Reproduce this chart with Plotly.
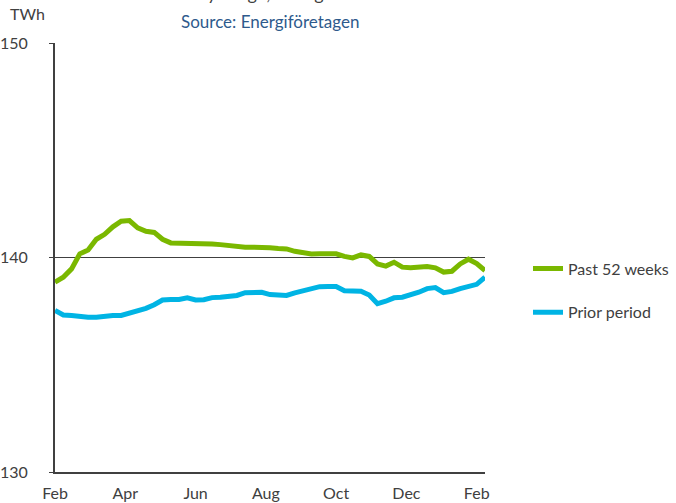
import plotly.graph_objects as go

weeks = list(range(53))
past_52_weeks = [138.85, 139.08, 139.47, 140.17, 140.35, 140.85, 141.08, 141.43, 141.69, 141.72,
                 141.38, 141.22, 141.17, 140.85, 140.68, 140.68, 140.68, 140.68, 140.68, 140.63,
                 140.60, 140.55, 140.48, 140.48, 140.48, 140.48, 140.45, 140.42, 140.40, 140.29,
                 140.25, 140.16, 140.18, 140.20, 140.17, 140.05, 139.98, 140.12, 140.05, 139.70,
                 139.60, 139.78, 139.55, 139.52, 139.57, 139.58, 139.52, 139.32, 139.36, 139.70,
                 139.92, 139.72, 139.39]
prior_period = [137.53, 137.32, 137.30, 137.25, 137.22, 137.22, 137.28, 137.30, 137.30, 137.40,
                137.50, 137.63, 137.80, 138.02, 138.04, 138.04, 138.12, 138.02, 138.03, 138.13,
                138.15, 138.20, 138.23, 138.36, 138.38, 138.38, 138.27, 138.23, 138.23, 138.35,
                138.45, 138.56, 138.64, 138.65, 138.65, 138.45, 138.43, 138.43, 138.25, 137.85,
                137.96, 138.12, 138.15, 138.24, 138.38, 138.55, 138.60, 138.36, 138.42, 138.55,
                138.63, 138.75, 139.08]
month_ticks = [0, 8.5, 17, 25.5, 34, 42.5, 51]
month_labels = ["Feb", "Apr", "Jun", "Aug", "Oct", "Dec", "Feb"]

FONT = "Lato"
GREY = "#404040"

fig = go.Figure()
fig.add_trace(go.Scatter(x=weeks, y=past_52_weeks, mode="lines", name="Past 52 weeks",
                         legendgroup="a",
                         line=dict(color="#7AB800", width=5)))
fig.add_trace(go.Scatter(x=weeks, y=prior_period, mode="lines", name="Prior period",
                         legendgroup="b",
                         line=dict(color="#00B4E4", width=5)))

fig.update_layout(
    width=676, height=503,
    margin=dict(l=55, r=191, t=43, b=31, autoexpand=False),
    paper_bgcolor="white", plot_bgcolor="white",
    font=dict(family=FONT, size=16, color=GREY),
    showlegend=True,
    legend=dict(x=1.1, y=0.514, xanchor="left", yanchor="top",
                traceorder="grouped", tracegroupgap=20,
                font=dict(family=FONT, size=16, color=GREY),
                bgcolor="rgba(0,0,0,0)"),
    xaxis=dict(range=[0, 52], tickvals=month_ticks, ticktext=month_labels,
               showgrid=False, zeroline=False, showline=True, linecolor=GREY, linewidth=2,
               ticks="", ticklabelstandoff=6, automargin=False,
               tickfont=dict(family=FONT, size=16, color=GREY)),
    yaxis=dict(range=[130, 150], tickvals=[130, 140, 150], showgrid=True,
               gridcolor=GREY, gridwidth=1, zeroline=False,
               showline=True, linecolor=GREY, linewidth=2,
               ticks="outside", ticklen=4, tickcolor=GREY, tickwidth=1,
               ticklabelstandoff=18, automargin=False,
               tickfont=dict(family=FONT, size=16, color=GREY)),
    annotations=[
        dict(text="TWh", xref="paper", yref="paper", x=-0.11, y=1.0, xanchor="left",
             yanchor="bottom", showarrow=False, yshift=18,
             font=dict(family=FONT, size=16, color=GREY)),
        dict(text="Source: Energiföretagen", xref="paper", yref="paper", x=0.5, y=1.0,
             xanchor="center", yanchor="bottom", showarrow=False, yshift=9,
             font=dict(family=FONT, size=17, color="#2E5A8C")),
        dict(text="Electricity usage, rolling 52 weeks", xref="paper", yref="paper", x=0.5, y=1.0,
             xanchor="center", yanchor="bottom", showarrow=False, yshift=37,
             font=dict(family=FONT, size=18, color=GREY)),
    ],
)

fig.write_html("out.html", config={"displayModeBar": False},
               post_script="document.body.style.margin='0';document.body.style.padding='0';")
